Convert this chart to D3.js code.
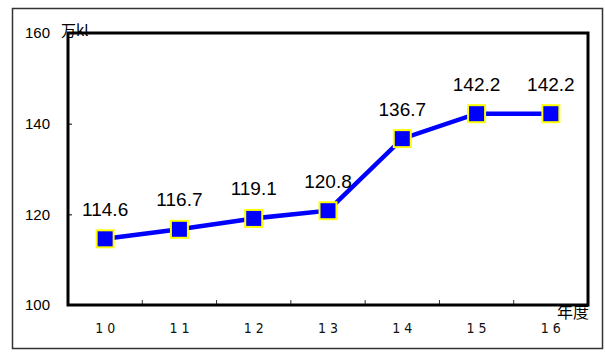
<!DOCTYPE html>
<html><head><meta charset="utf-8">
<script src="https://cdn.jsdelivr.net/npm/d3@7"></script>
<style>body{margin:0;background:#fff}svg{display:block}</style>
</head><body>
<script>
const categories = ["1 0","1 1","1 2","1 3","1 4","1 5","1 6"];
const values = [114.6, 116.7, 119.1, 120.8, 136.7, 142.2, 142.2];
const yTicks = [100, 120, 140, 160];
const yUnit = "万kl";
const xUnit = "年度";

const W = 605, H = 354;
const m = {left: 68, right: 17, top: 33, bottom: 49};
const svg = d3.select("body").append("svg").attr("width", W).attr("height", H);

// outer border
svg.append("rect").attr("x", 12.5).attr("y", 8.5).attr("width", 590).attr("height", 340)
  .attr("fill", "none").attr("stroke", "#333").attr("stroke-width", 1.5);

const x = d3.scaleBand().domain(categories).range([m.left, W - m.right]);
const y = d3.scaleLinear().domain([100, 160]).range([H - m.bottom, m.top]);

// y ticks (inside)
const gy = svg.append("g").attr("transform", `translate(${m.left},0)`)
  .call(d3.axisLeft(y).tickValues(yTicks).tickSize(-4).tickPadding(18).tickFormat(d3.format("d")));
gy.select(".domain").remove();
gy.selectAll("line").attr("stroke", "#000");
gy.selectAll("text").attr("font-family", "Arial, 'Liberation Sans', sans-serif").attr("font-size", 15).attr("fill", "#000");

// x ticks at band boundaries (inside)
const bounds = categories.slice(1).map(c => x(c));
svg.append("g").selectAll("line").data(bounds).join("line")
  .attr("x1", d => d).attr("x2", d => d)
  .attr("y1", H - m.bottom).attr("y2", H - m.bottom - 5)
  .attr("stroke", "#333");

// x labels
svg.append("g").selectAll("text").data(categories).join("text")
  .attr("x", d => x(d) + x.bandwidth() / 2).attr("y", 333)
  .attr("text-anchor", "middle")
  .attr("font-family", "'Liberation Sans Narrow', 'DejaVu Sans Condensed', sans-serif")
  .attr("font-size", 14).attr("fill", "#111")
  .text(d => d);

// plot frame
svg.append("rect").attr("x", m.left).attr("y", m.top)
  .attr("width", W - m.left - m.right).attr("height", H - m.top - m.bottom)
  .attr("fill", "none").attr("stroke", "#000").attr("stroke-width", 3);

// line
const pts = categories.map((c, i) => [x(c) + x.bandwidth() / 2, y(values[i])]);
svg.append("path").attr("d", d3.line()(pts))
  .attr("fill", "none").attr("stroke", "#0000ff").attr("stroke-width", 4.5);

// markers
svg.append("g").selectAll("rect").data(pts).join("rect")
  .attr("x", d => d[0] - 8.5).attr("y", d => d[1] - 8.5)
  .attr("width", 17).attr("height", 17)
  .attr("fill", "#0000ff").attr("stroke", "#ffff00").attr("stroke-width", 2);

// value labels
svg.append("g").selectAll("text").data(values).join("text")
  .attr("x", (d, i) => pts[i][0]).attr("y", (d, i) => pts[i][1] - 23)
  .attr("text-anchor", "middle")
  .attr("font-family", "Arial, 'Liberation Sans', sans-serif")
  .attr("font-size", 19).attr("fill", "#000")
  .text(d => d.toFixed(1));

// units
svg.append("text").attr("x", 61).attr("y", 36)
  .attr("font-family", "'Noto Sans CJK JP', sans-serif").attr("font-size", 15).attr("fill", "#000")
  .text(yUnit);
svg.append("text").attr("x", 557).attr("y", 318)
  .attr("font-family", "'Noto Sans CJK JP', sans-serif").attr("font-size", 16).attr("fill", "#000")
  .text(xUnit);
</script>
</body></html>
